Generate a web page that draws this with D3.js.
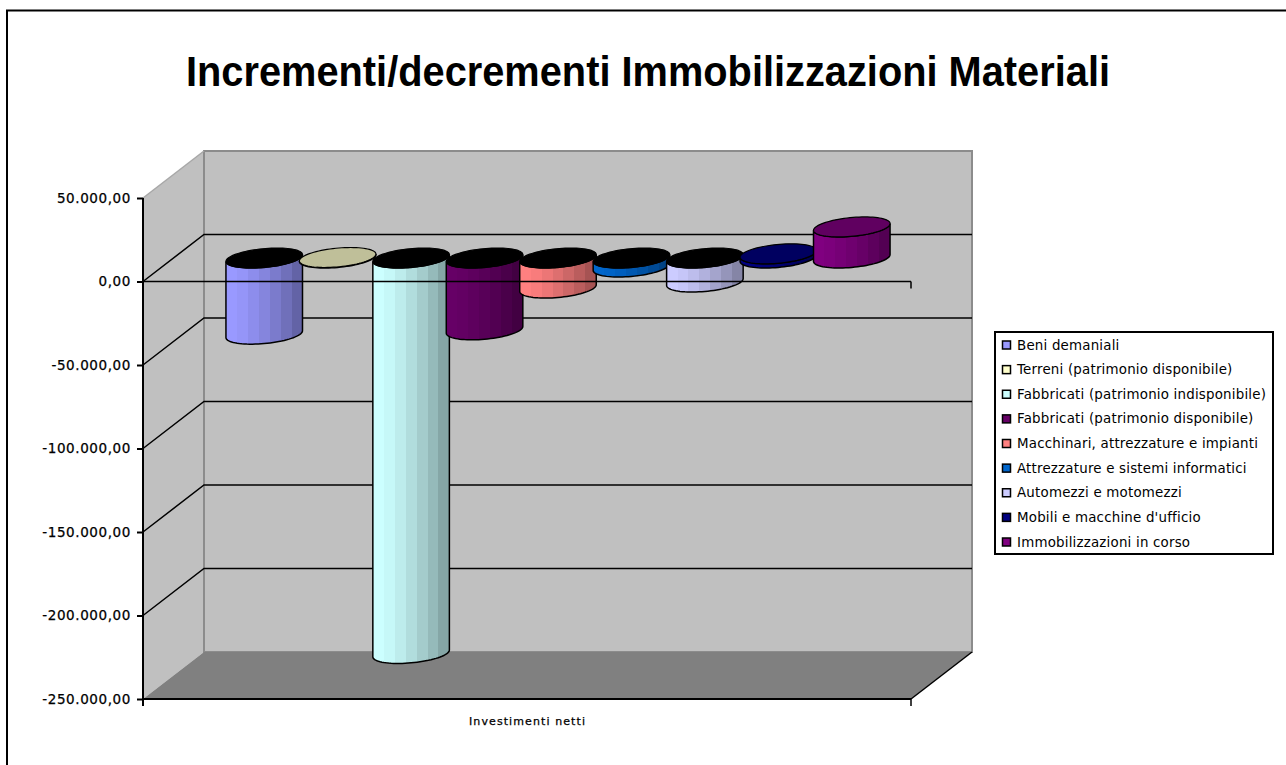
<!DOCTYPE html>
<html><head><meta charset="utf-8">
<script src="https://cdn.jsdelivr.net/npm/d3@7"></script>
<style>html,body{margin:0;padding:0;background:#fff}svg{display:block}text{fill:#000}</style>
</head><body><svg id="c" width="1286" height="765"></svg>
<script>
const titleText = "Incrementi/decrementi Immobilizzazioni Materiali";
const categoryLabel = "Investimenti netti";
const seriesNames = ["Beni demaniali","Terreni (patrimonio disponibile)","Fabbricati (patrimonio indisponibile)","Fabbricati (patrimonio disponibile)","Macchinari, attrezzature e impianti","Attrezzature e sistemi informatici","Automezzi e motomezzi","Mobili e macchine d'ufficio","Immobilizzazioni in corso"];
const seriesValues = [-45600,300,-236800,-43000,-18000,-5400,-14400,2500,18600];
const seriesColors = ["#9999ff","#ffffcc","#ccffff","#660066","#ff8080","#0066cc","#ccccff","#000080","#800080"];
const tickValues = [50000,0,-50000,-100000,-150000,-200000,-250000];

const svg = d3.select("#c");
const fmt = d3.formatLocale({decimal:",",thousands:".",grouping:[3],currency:["",""],minus:"-"}).format(",.2f");
const y = d3.scaleLinear().domain([-250000,50000]).range([699,198]);
const x = d3.scaleBand().domain(seriesNames).range([197,858]).padding(0);
const depth = {dx:61,dy:-47};
const L=143,R=911;

svg.append("path").attr("d","M7,765V10.5H1286").attr("fill","none").attr("stroke","#000").attr("stroke-width",2);
svg.append("text").attr("x",648).attr("y",86).attr("text-anchor","middle").attr("font-family","Liberation Sans").attr("font-weight","bold").attr("font-size",43).attr("textLength",924).attr("lengthAdjust","spacingAndGlyphs").text(titleText);

const pts=a=>a.map(p=>p.join(",")).join(" ");
const yTop=y(50000),yBot=y(-250000);
svg.append("polygon").attr("points",pts([[L,yTop],[L+depth.dx,yTop+depth.dy],[L+depth.dx,yBot+depth.dy],[L,yBot]])).attr("fill","#c0c0c0");
svg.append("polygon").attr("points",pts([[L+depth.dx,yTop+depth.dy],[R+depth.dx,yTop+depth.dy],[R+depth.dx,yBot+depth.dy],[L+depth.dx,yBot+depth.dy]])).attr("fill","#c0c0c0").attr("stroke","#8c8c8c").attr("stroke-width",2);
svg.append("polygon").attr("points",pts([[L,yBot],[L+depth.dx,yBot+depth.dy],[R+depth.dx,yBot+depth.dy],[R,yBot]])).attr("fill","#808080");
svg.append("line").attr("x1",L).attr("y1",yTop).attr("x2",L+depth.dx).attr("y2",yTop+depth.dy).attr("stroke","#a8a8a8").attr("stroke-width",1.5);

tickValues.slice(1,-1).forEach(v=>{
  svg.append("polyline").attr("fill","none").attr("stroke","#000").attr("stroke-width",1.5)
   .attr("points",pts([[L,y(v)],[L+depth.dx,y(v)+depth.dy],[R+depth.dx,y(v)+depth.dy]]));
});

// cylinders
const defs=svg.append("defs");
const steps=7, darkest=0.65;
const a=36,ex=13,ey=-10,cOff={x:30.5,y:-23.5};
const ring=(i,yv,t0,t1,n=40)=>{
  const cx=x(seriesNames[i])+x.bandwidth()/2+cOff.x, cy=y(yv)+cOff.y;
  return d3.range(n+1).map(k=>{const t=t0+(t1-t0)*k/n;return [cx+a*Math.cos(t)+ex*Math.sin(t),cy+ey*Math.sin(t)];});
};
const tR=Math.atan2(ex,a);
const line=d3.line();
seriesValues.forEach((v,i)=>{
  const c=d3.color(seriesColors[i]);
  const g=defs.append("linearGradient").attr("id","g"+i);
  d3.range(steps).forEach(s=>{
    const k=1-(1-darkest)*Math.pow(s/(steps-1),1.4);
    const col=d3.rgb(c.r*k,c.g*k,c.b*k).formatHex();
    g.append("stop").attr("offset",s/steps).attr("stop-color",col);
    g.append("stop").attr("offset",(s+1)/steps).attr("stop-color",col);
  });
  const hi=Math.max(v,0), lo=Math.min(v,0);
  const lower=ring(i,lo,Math.PI+tR,2*Math.PI+tR);
  const upper=ring(i,hi,Math.PI+tR,2*Math.PI+tR).reverse();
  svg.append("path").attr("d",line(lower.concat(upper))+"Z").attr("fill",`url(#g${i})`).attr("stroke","#000").attr("stroke-width",1.5);
  const k=v<0?0:0.75;
  svg.append("path").attr("d",line(ring(i,hi,0,2*Math.PI,80))+"Z")
    .attr("fill",d3.rgb(c.r*k,c.g*k,c.b*k).formatHex()).attr("stroke","#000").attr("stroke-width",1.2);
});

// axes
const font="DejaVu Sans";
const axis=svg.append("g").attr("transform",`translate(${L},0)`).call(d3.axisLeft(y).tickValues(tickValues).tickFormat(fmt).tickSize(6).tickPadding(6));
axis.select(".domain").attr("stroke","#000").attr("stroke-width",2).attr("d",`M0,${yTop}V${yBot+7}`);
axis.selectAll(".tick line").attr("stroke-width",2);
axis.selectAll("text").attr("font-family",font).attr("font-size",13.5).attr("letter-spacing",0.6).attr("fill","#000").attr("stroke","#000").attr("stroke-width",0.25);
svg.append("line").attr("x1",L).attr("x2",R).attr("y1",y(0)).attr("y2",y(0)).attr("stroke","#000").attr("stroke-width",1.5);
svg.append("line").attr("x1",R).attr("x2",R).attr("y1",y(0)).attr("y2",y(0)+7).attr("stroke","#000").attr("stroke-width",1.5);
svg.append("line").attr("x1",L).attr("x2",R).attr("y1",yBot).attr("y2",yBot).attr("stroke","#000").attr("stroke-width",2);
svg.append("line").attr("x1",R).attr("x2",R).attr("y1",yBot).attr("y2",yBot+7).attr("stroke","#000").attr("stroke-width",1.5);
svg.append("line").attr("x1",R).attr("x2",R+depth.dx).attr("y1",yBot).attr("y2",yBot+depth.dy).attr("stroke","#000").attr("stroke-width",1.5);
svg.append("text").attr("x",527).attr("y",725).attr("text-anchor","middle").attr("font-family",font).attr("font-size",11).attr("stroke","#000").attr("stroke-width",0.25).attr("textLength",116).text(categoryLabel);

// legend
const lg=svg.append("g");
lg.append("rect").attr("x",995).attr("y",332).attr("width",278).attr("height",222).attr("fill","#fff").attr("stroke","#000").attr("stroke-width",2);
const ly=d3.scalePoint().domain(seriesNames).range([345,542]);
seriesNames.forEach((n,i)=>{
  lg.append("rect").attr("x",1002.5).attr("y",ly(n)-4).attr("width",8).attr("height",8).attr("fill",seriesColors[i]).attr("stroke","#000").attr("stroke-width",1.5);
  lg.append("text").attr("x",1017).attr("y",ly(n)+4.5).attr("font-family",font).attr("font-size",13.4).attr("letter-spacing",0.2).text(n);
});
</script></body></html>
